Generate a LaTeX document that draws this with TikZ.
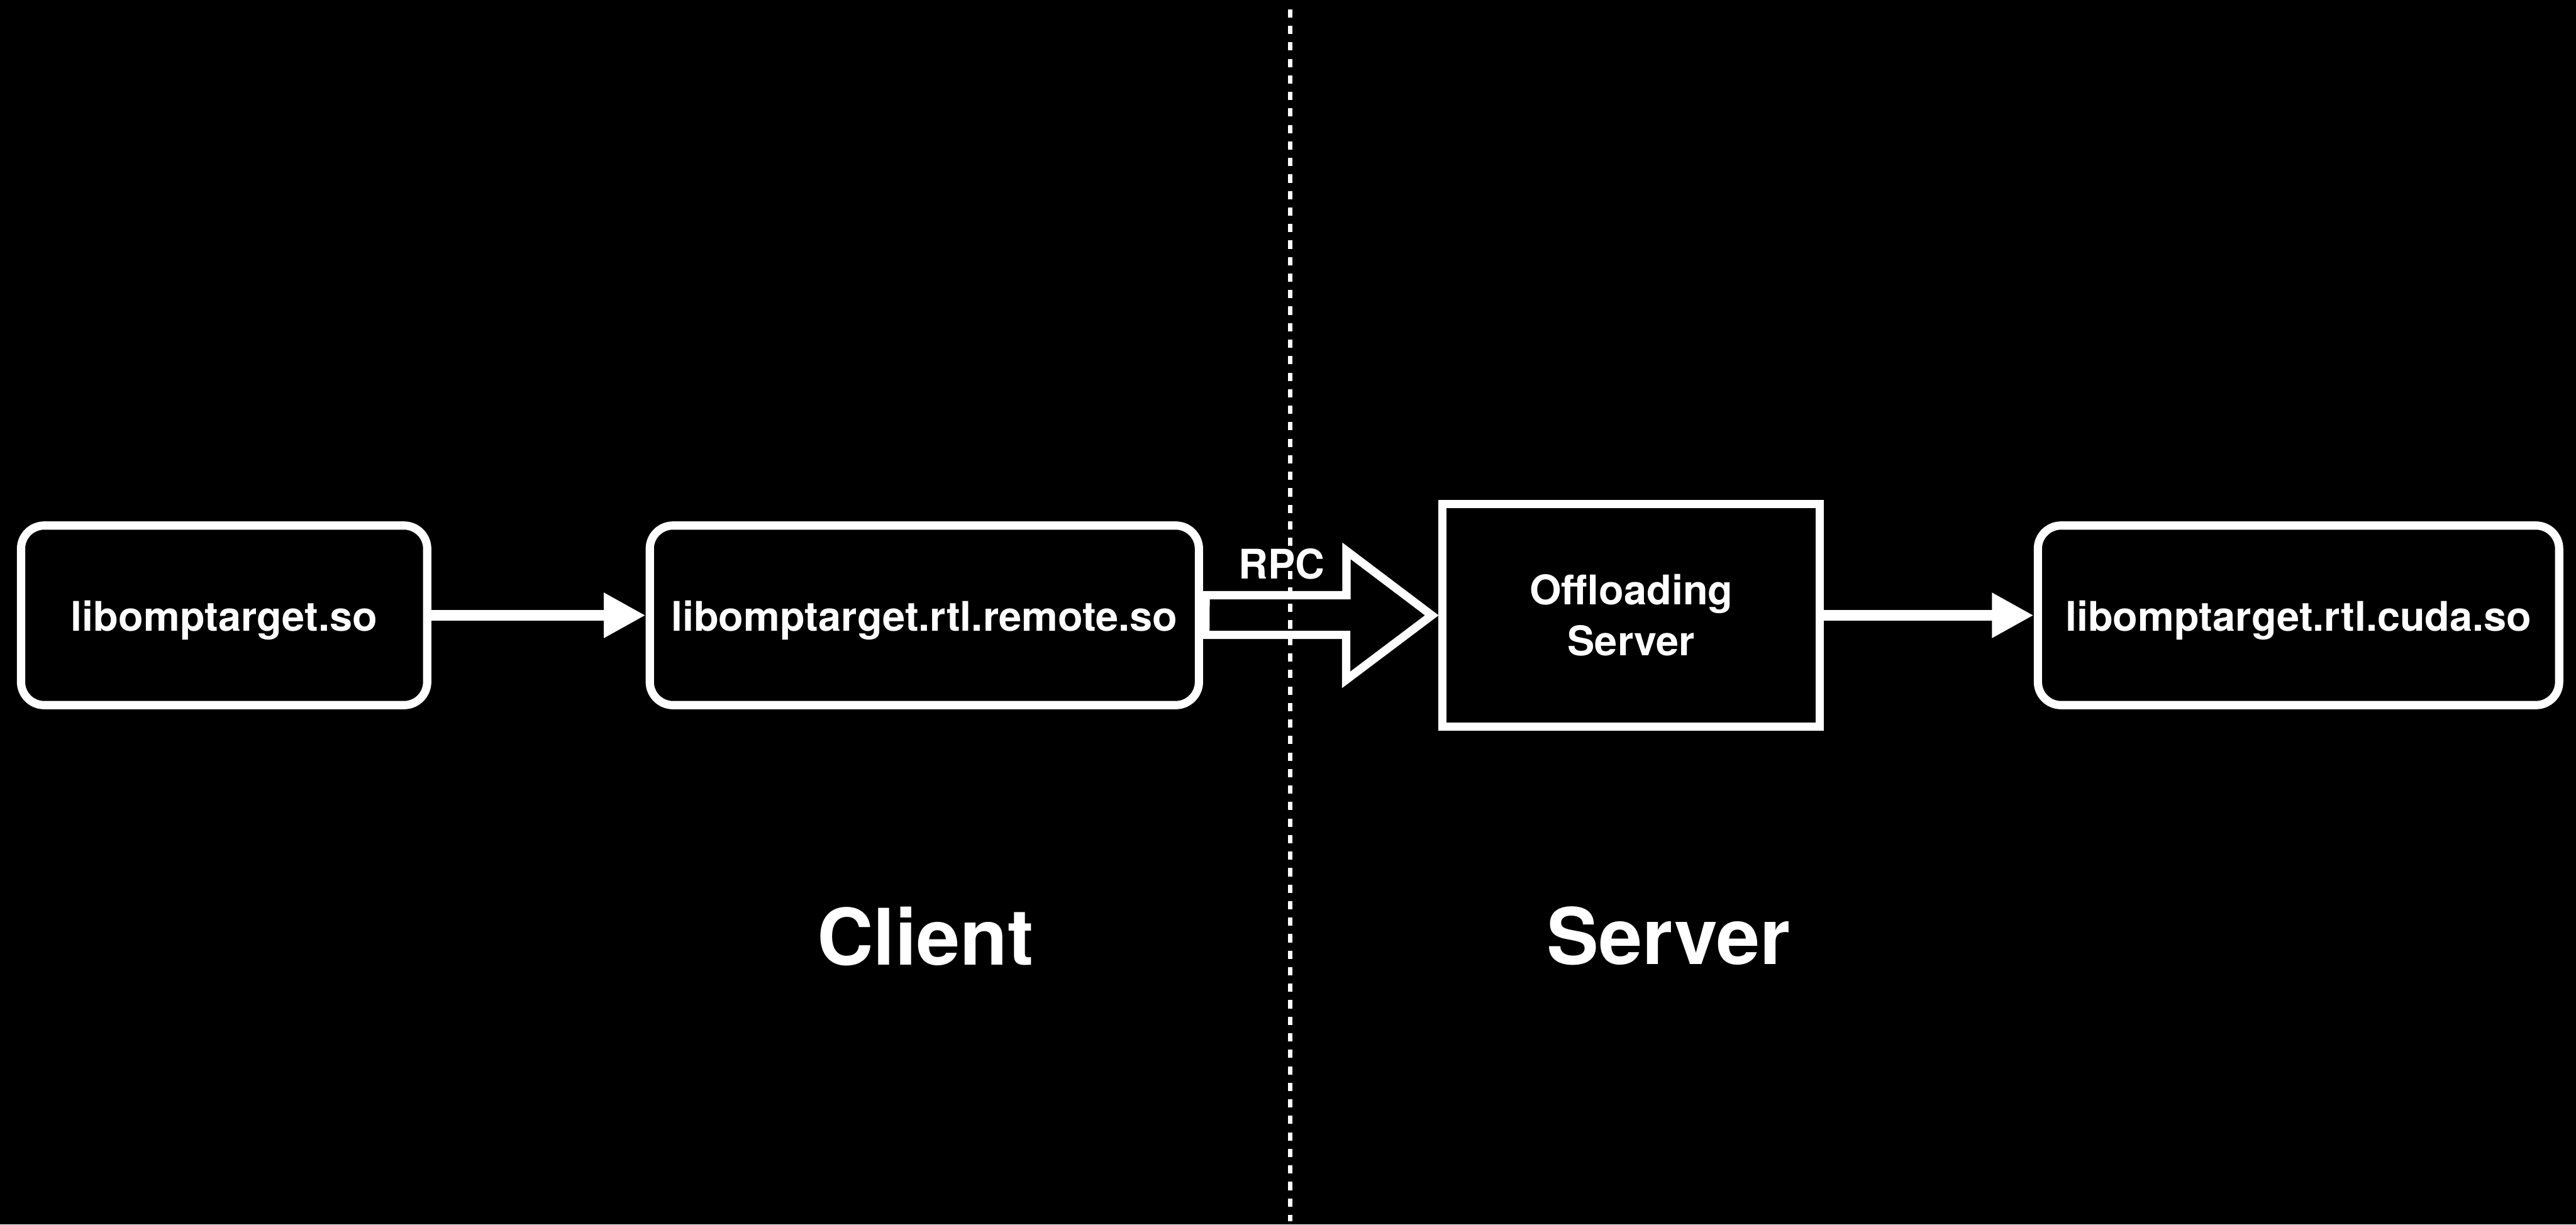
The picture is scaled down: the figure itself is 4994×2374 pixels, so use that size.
\documentclass[tikz,border=0pt]{standalone}
\usepackage{fontspec}
\setmainfont{TeX Gyre Heros}
\usetikzlibrary{arrows.meta,calc}
\begin{document}
\begin{tikzpicture}[x=0.01cm, y=-0.01cm, line join=miter, font=\bfseries\fontsize{22.5}{28}\selectfont,
    every node/.style={text=white},
    lib/.style={draw=white, line width=0.16cm, rounded corners=0.45cm, minimum height=3.48cm, text height=0.6cm, text depth=0cm},
    link/.style={white, line width=0.21cm, -{Triangle[length=0.81cm, width=0.82cm]}},
    side/.style={font=\bfseries\fontsize{43}{50}\selectfont, anchor=base}]
    \fill[black] (0,0) rectangle (4994,2374);
    % client / server split
    \draw[white, line width=0.08cm, dash pattern=on 0.16cm off 0.16cm] (2501,18)--(2501,2368);
    \foreach \name/\x/\w/\lbl in {omp/434.5/7.87/libomptarget.so, remote/1792/10.64/libomptarget.rtl.remote.so, cuda/4456/10.10/libomptarget.rtl.cuda.so}
        \node[lib, minimum width=\w cm] (\name) at (\x,1193) {\lbl};
    \node[draw=white, line width=0.16cm, minimum width=7.31cm, minimum height=4.31cm, align=center] (offl) at (3162.5,1193) {Offloading\\Server};
    \draw[link] (omp) -- (remote);
    \draw[link] (offl) -- (cuda);
    % RPC block arrow
    \draw[white, line width=0.16cm] ($(remote.east)+(5,-39)$) -- ++(273,0) -- ++(0,-86) -- ($(offl.west)+(-13,0)$) -- ++(-166,125) -- ++(0,-87) -- ++(-273,0) -- cycle;
    \node (rpc) at (2485,1094) {RPC};
    \node[side] (client) at (1794,1871) {Client};
    \node[side] (server) at (3235,1870) {Server};
\end{tikzpicture}
\end{document}
